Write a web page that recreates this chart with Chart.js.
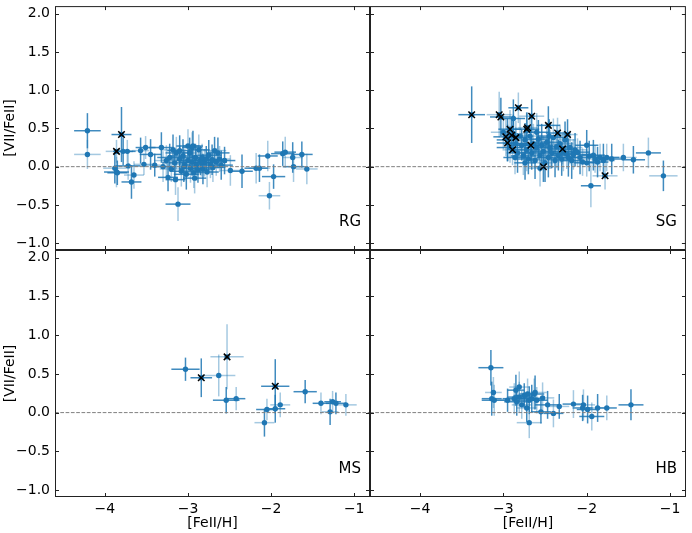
<!DOCTYPE html>
<html>
<head>
<meta charset="utf-8">
<script src="https://cdn.jsdelivr.net/npm/chart.js@4.4.1/dist/chart.umd.min.js"></script>
<style>
  body { margin: 0; background: #fff; }
  #wrap { position: relative; width: 692px; height: 533px; }
  #wrap canvas { position: absolute; left: 0; top: 0; }
</style>
</head>
<body>
<div id="wrap">
  <canvas id="rg" width="692" height="533"></canvas>
  <canvas id="sg" width="692" height="533"></canvas>
  <canvas id="ms" width="692" height="533"></canvas>
  <canvas id="hb" width="692" height="533"></canvas>
</div>
<script>
// tick labels
const xTicks = [-4, -3, -2, -1];
const yTicks = [-1.0, -0.5, 0.0, 0.5, 1.0, 1.5, 2.0];

// RG - red giants
const rgFe = [-4.21, -4.21, -3.78, -3.73, -3.88, -3.86, -3.85, -3.65, -3.68, -3.72, -3.57, -3.51, -3.45, -3.53, -3.32, -3.12,
  -3.18, -3.00, -2.94, -3.26, -3.24, -3.15, -3.40, -3.30, -3.22, -3.20, -3.16, -3.14, -3.10, -3.08, -3.06, -3.04,
  -3.02, -3.00, -2.98, -2.97, -2.95, -2.93, -2.91, -2.90, -2.88, -2.87, -2.85, -2.83, -2.82, -2.80, -2.78, -2.77,
  -2.75, -2.73, -2.71, -2.70, -2.68, -2.66, -2.64, -2.62, -2.60, -2.84, -3.05, -2.95, -3.10, -2.49, -2.35, -2.18,
  -2.14, -2.04, -1.97, -2.02, -1.86, -1.83, -1.74, -1.73, -1.63, -1.57, -2.56, -2.92];
const rgV = [0.47, 0.16, 0.20, 0.20, -0.02, -0.07, -0.08, -0.11, -0.20, 0.01, 0.21, 0.25, 0.16, 0.03, 0.25, -0.49,
  0.22, 0.27, 0.27, 0.08, -0.14, -0.17, 0.02, 0.00, 0.12, -0.03, 0.05, 0.18, 0.10, -0.06, 0.14, 0.03,
  -0.10, 0.08, 0.18, -0.02, 0.06, -0.08, 0.12, 0.02, -0.04, 0.22, 0.08, 0.12, -0.03, 0.05, 0.10, -0.07,
  0.15, 0.03, 0.09, -0.01, 0.21, 0.06, 0.18, 0.10, 0.02, 0.05, 0.00, 0.25, 0.21, -0.05, -0.06, -0.02,
  -0.02, 0.14, -0.13, -0.38, 0.17, 0.19, 0.12, 0.00, 0.16, -0.03, 0.08, -0.15];
const rgFeErr = [0.16, 0.16, 0.12, 0.10, 0.14, 0.15, 0.12, 0.12, 0.12, 0.15, 0.10, 0.12, 0.13, 0.12, 0.15, 0.15,
  0.15, 0.14, 0.12, 0.15, 0.12, 0.12, 0.12, 0.15, 0.15, 0.14, 0.15, 0.13, 0.14, 0.14, 0.15, 0.13,
  0.15, 0.14, 0.12, 0.14, 0.15, 0.13, 0.14, 0.16, 0.14, 0.13, 0.15, 0.14, 0.14, 0.15, 0.12, 0.14,
  0.15, 0.13, 0.14, 0.15, 0.14, 0.13, 0.14, 0.13, 0.14, 0.13, 0.14, 0.12, 0.15, 0.12, 0.13, 0.14,
  0.13, 0.12, 0.14, 0.13, 0.14, 0.13, 0.12, 0.13, 0.13, 0.13, 0.13, 0.14];
const rgVErr = [0.23, 0.19, 0.18, 0.15, 0.20, 0.20, 0.16, 0.18, 0.22, 0.18, 0.17, 0.15, 0.20, 0.14, 0.20, 0.22,
  0.20, 0.22, 0.20, 0.20, 0.18, 0.20, 0.15, 0.20, 0.18, 0.17, 0.20, 0.21, 0.18, 0.20, 0.22, 0.18,
  0.20, 0.17, 0.20, 0.19, 0.18, 0.20, 0.18, 0.20, 0.17, 0.20, 0.19, 0.18, 0.20, 0.18, 0.17, 0.20,
  0.20, 0.18, 0.20, 0.19, 0.18, 0.18, 0.20, 0.17, 0.19, 0.18, 0.20, 0.20, 0.20, 0.20, 0.22, 0.20,
  0.18, 0.20, 0.16, 0.18, 0.16, 0.20, 0.20, 0.20, 0.17, 0.20, 0.18, 0.20];
const rgCrossFe = [-3.80, -3.86];
const rgCrossV = [0.42, 0.20];
const rgCrossFeErr = [0.12, 0.13];
const rgCrossVErr = [0.36, 0.15];

// SG - subgiants
const sgFe = [-2.88, -3.00, -2.95, -2.92, -2.88, -2.85, -2.83, -2.80, -2.78, -2.76, -2.74, -2.72, -2.70, -2.68, -2.66, -2.64,
  -2.62, -2.60, -2.58, -2.56, -2.54, -2.52, -2.50, -2.48, -2.46, -2.44, -2.42, -2.40, -2.38, -2.36, -2.34, -2.32,
  -2.30, -2.28, -2.26, -2.24, -2.22, -2.20, -2.18, -2.16, -2.14, -2.11, -2.08, -2.05, -2.00, -2.00, -1.97, -1.95,
  -1.92, -1.90, -1.87, -1.84, -1.80, -1.76, -1.70, -1.56, -1.44, -1.26, -1.08, -2.60, -2.74, -2.56, -2.45, -2.86];
const sgV = [0.63, 0.45, 0.35, 0.25, 0.43, 0.30, 0.18, 0.40, 0.28, 0.14, 0.35, 0.22, 0.10, 0.40, 0.18, 0.30,
  0.08, 0.25, 0.36, 0.15, 0.28, 0.20, 0.05, 0.32, 0.12, 0.24, 0.18, 0.38, 0.08, 0.26, 0.15, 0.30,
  0.10, 0.20, 0.35, 0.17, 0.12, 0.25, 0.08, 0.16, 0.22, 0.19, 0.12, 0.06, 0.28, 0.05, 0.14, -0.25,
  0.15, 0.10, 0.06, 0.12, 0.08, 0.12, 0.10, 0.12, 0.09, 0.18, -0.12, 0.45, 0.05, -0.02, 0.40, 0.12];
const sgFeErr = [0.14, 0.15, 0.13, 0.16, 0.14, 0.15, 0.13, 0.16, 0.14, 0.15, 0.13, 0.16, 0.14, 0.15, 0.13, 0.16,
  0.14, 0.15, 0.13, 0.16, 0.14, 0.15, 0.13, 0.16, 0.14, 0.15, 0.13, 0.16, 0.14, 0.15, 0.13, 0.16,
  0.14, 0.15, 0.13, 0.16, 0.14, 0.15, 0.13, 0.16, 0.14, 0.15, 0.13, 0.16, 0.14, 0.15, 0.13, 0.12,
  0.14, 0.15, 0.13, 0.16, 0.14, 0.15, 0.13, 0.16, 0.14, 0.15, 0.17, 0.15, 0.13, 0.14, 0.15, 0.14];
const sgVErr = [0.25, 0.22, 0.28, 0.20, 0.25, 0.22, 0.26, 0.24, 0.20, 0.25, 0.22, 0.28, 0.20, 0.25, 0.22, 0.26,
  0.24, 0.20, 0.25, 0.22, 0.28, 0.20, 0.25, 0.22, 0.26, 0.24, 0.20, 0.25, 0.22, 0.28, 0.20, 0.25,
  0.22, 0.26, 0.24, 0.20, 0.25, 0.22, 0.24, 0.20, 0.22, 0.18, 0.22, 0.18, 0.20, 0.18, 0.20, 0.28,
  0.20, 0.18, 0.20, 0.18, 0.22, 0.18, 0.20, 0.18, 0.18, 0.20, 0.20, 0.25, 0.22, 0.24, 0.22, 0.22];
const sgCrossFe = [-3.38, -3.05, -3.03, -2.82, -2.66, -2.92, -2.72, -2.71, -2.46, -2.97, -2.90, -2.85, -2.95, -2.89, -2.67, -2.35,
  -2.23, -2.29, -2.52, -1.78];
const sgCrossV = [0.68, 0.68, 0.65, 0.77, 0.66, 0.49, 0.49, 0.51, 0.54, 0.39, 0.41, 0.38, 0.31, 0.22, 0.28, 0.44,
  0.42, 0.23, 0.00, -0.12];
const sgCrossFeErr = [0.16, 0.15, 0.13, 0.12, 0.15, 0.14, 0.15, 0.12, 0.14, 0.15, 0.13, 0.14, 0.13, 0.12, 0.15, 0.14,
  0.12, 0.14, 0.12, 0.15];
const sgCrossVErr = [0.37, 0.30, 0.25, 0.20, 0.22, 0.25, 0.22, 0.20, 0.25, 0.25, 0.20, 0.22, 0.24, 0.20, 0.22, 0.20,
  0.20, 0.20, 0.20, 0.18];

// MS - main sequence
const msFe = [-3.03, -2.63, -2.54, -2.42, -2.08, -2.05, -1.95, -1.89, -1.59, -1.40, -1.29, -1.26, -1.22, -1.10];
const msV = [0.56, 0.48, 0.16, 0.18, -0.13, 0.04, 0.05, 0.10, 0.27, 0.12, 0.01, 0.14, 0.12, 0.10];
const msFeErr = [0.17, 0.20, 0.16, 0.11, 0.12, 0.13, 0.12, 0.12, 0.14, 0.10, 0.10, 0.10, 0.12, 0.13];
const msVErr = [0.15, 0.27, 0.17, 0.15, 0.18, 0.14, 0.18, 0.16, 0.15, 0.14, 0.17, 0.14, 0.14, 0.14];
const msCrossFe = [-2.84, -2.53, -1.95];
const msCrossV = [0.45, 0.72, 0.34];
const msCrossFeErr = [0.13, 0.20, 0.17];
const msCrossVErr = [0.25, 0.42, 0.35];

// HB - horizontal branch
const hbFe = [-3.15, -3.12, -3.14, -3.11, -2.95, -2.87, -2.85, -2.81, -2.84, -2.81, -2.72, -2.71, -2.69, -2.69, -2.66, -2.63,
  -2.62, -2.60, -2.55, -2.53, -2.47, -2.40, -2.33, -2.16, -2.05, -2.04, -1.99, -1.94, -1.87, -1.76, -1.47, -2.78, -2.75];
const hbV = [0.58, 0.26, 0.18, 0.16, 0.16, 0.18, 0.29, 0.33, 0.14, 0.20, 0.06, 0.24, 0.16, -0.13, 0.18, 0.24,
  0.26, 0.16, 0.01, 0.19, 0.10, -0.01, 0.08, 0.11, 0.06, 0.10, 0.04, -0.05, 0.06, 0.06, 0.10, 0.10, 0.22];
const hbFeErr = [0.15, 0.10, 0.12, 0.15, 0.14, 0.14, 0.10, 0.12, 0.15, 0.14, 0.12, 0.10, 0.13, 0.15, 0.14, 0.12,
  0.14, 0.13, 0.12, 0.14, 0.15, 0.12, 0.12, 0.13, 0.12, 0.14, 0.13, 0.15, 0.13, 0.12, 0.15, 0.12, 0.13];
const hbVErr = [0.23, 0.20, 0.22, 0.20, 0.15, 0.20, 0.20, 0.20, 0.18, 0.20, 0.18, 0.20, 0.18, 0.20, 0.18, 0.20,
  0.22, 0.17, 0.15, 0.20, 0.18, 0.18, 0.16, 0.18, 0.17, 0.20, 0.18, 0.18, 0.18, 0.16, 0.20, 0.18, 0.16];

const FONT = "'DejaVu Sans', sans-serif";
const minus = v => String(v).replace('-', '\u2212');

function pts(xs, ys) {
  return xs.map((x, i) => ({ x: x, y: ys[i] }));
}

// error bars, drawn under the markers
const errorBars = {
  id: 'errorBars',
  beforeDatasetsDraw(chart) {
    const { ctx, chartArea: a, scales: { x, y } } = chart;
    ctx.save();
    ctx.beginPath();
    ctx.rect(a.left, a.top, a.right - a.left, a.bottom - a.top);
    ctx.clip();
    ctx.lineWidth = 1.5;
    chart.data.datasets.forEach(ds => {
      if (!ds.errX) return;
      ds.data.forEach((p, i) => {
        const px = x.getPixelForValue(p.x);
        const py = y.getPixelForValue(p.y);
        ctx.strokeStyle = i % 3 === 1 ? 'rgba(31,119,180,0.4)' : 'rgba(31,119,180,0.85)';
        ctx.beginPath();
        ctx.moveTo(x.getPixelForValue(p.x - ds.errX[i]), py);
        ctx.lineTo(x.getPixelForValue(p.x + ds.errX[i]), py);
        ctx.stroke();
        ctx.strokeStyle = i % 2 === 1 ? 'rgba(31,119,180,0.4)' : 'rgba(31,119,180,0.85)';
        ctx.beginPath();
        ctx.moveTo(px, y.getPixelForValue(p.y - ds.errY[i]));
        ctx.lineTo(px, y.getPixelForValue(p.y + ds.errY[i]));
        ctx.stroke();
      });
    });
    ctx.restore();
  }
};

// zero line, frame, inward ticks, panel name
const frame = {
  id: 'frame',
  afterDatasetsDraw(chart) {
    const { ctx, chartArea: a, scales: { y } } = chart;
    const y0 = y.getPixelForValue(0);
    ctx.save();
    ctx.strokeStyle = '#7f7f7f';
    ctx.lineWidth = 1;
    ctx.setLineDash([3.7, 1.6]);
    ctx.beginPath();
    ctx.moveTo(a.left, y0);
    ctx.lineTo(a.right, y0);
    ctx.stroke();
    ctx.restore();
  },
  afterDraw(chart, args, opts) {
    const { ctx, chartArea: a, scales: { x, y } } = chart;
    ctx.save();
    ctx.strokeStyle = '#222';
    ctx.lineWidth = 1;
    ctx.strokeRect(a.left + 0.5, a.top + 0.5, a.right - a.left - 1, a.bottom - a.top - 1);
    ctx.beginPath();
    xTicks.forEach(v => {
      const px = Math.round(x.getPixelForValue(v)) + 0.5;
      ctx.moveTo(px, a.top); ctx.lineTo(px, a.top + 4);
      ctx.moveTo(px, a.bottom); ctx.lineTo(px, a.bottom - 4);
    });
    yTicks.forEach(v => {
      const py = Math.round(y.getPixelForValue(v)) + 0.5;
      ctx.moveTo(a.left, py); ctx.lineTo(a.left + 4, py);
      ctx.moveTo(a.right, py); ctx.lineTo(a.right - 4, py);
    });
    ctx.stroke();
    ctx.fillStyle = '#000';
    ctx.font = '15px ' + FONT;
    ctx.textAlign = 'right';
    ctx.textBaseline = 'alphabetic';
    ctx.fillText(opts.text, a.right - 9, a.bottom - 24);
    ctx.restore();
  }
};

function panel(id, name, fe, v, feErr, vErr, cFe, cV, cFeErr, cVErr, pad, leftCol, bottomRow) {
  const datasets = [];
  if (cFe) {
    datasets.push({
      data: pts(cFe, cV), pointStyle: 'crossRot', pointRadius: 4.6,
      borderColor: '#000', backgroundColor: '#000', pointBorderWidth: 1.5
    });
    datasets.push({
      data: pts(cFe, cV), errX: cFeErr, errY: cVErr, pointRadius: 2.7,
      backgroundColor: '#1f77b4', borderColor: '#1f77b4', pointBorderWidth: 0
    });
  }
  datasets.push({
    data: pts(fe, v), errX: feErr, errY: vErr, pointRadius: 2.7,
    backgroundColor: '#1f77b4', borderColor: '#1f77b4', pointBorderWidth: 0
  });

  return new Chart(document.getElementById(id), {
    type: 'scatter',
    data: { datasets: datasets },
    options: {
      responsive: false,
      animation: false,
      events: [],
      layout: { padding: pad },
      plugins: { legend: { display: false }, tooltip: { enabled: false }, frame: { text: name } },
      scales: {
        x: {
          type: 'linear', min: -4.6, max: -0.81,
          display: bottomRow,
          afterBuildTicks: s => { s.ticks = xTicks.map(t => ({ value: t })); },
          afterFit: s => { s.height = bottomRow ? 36 : 0; s.paddingLeft = 0; s.paddingRight = 0; },
          grid: { display: false, drawTicks: false },
          border: { display: false },
          ticks: { color: '#000', padding: 4, font: { family: FONT, size: 14 }, callback: val => minus(val), maxRotation: 0 },
          title: { display: true, text: '[FeII/H]', color: '#000', font: { family: FONT, size: 14 }, padding: { top: 0, bottom: 1 } }
        },
        y: {
          type: 'linear', min: -1.09, max: 2.1,
          display: leftCol,
          afterBuildTicks: s => { s.ticks = yTicks.map(t => ({ value: t })); },
          afterFit: s => { s.width = leftCol ? 55 : 0; s.paddingTop = 0; s.paddingBottom = 0; },
          grid: { display: false, drawTicks: false },
          border: { display: false },
          ticks: { color: '#000', padding: 5, font: { family: FONT, size: 14 }, callback: val => minus(val.toFixed(1)) },
          title: { display: true, text: '[VII/FeII]', color: '#000', font: { family: FONT, size: 14 }, padding: { top: 2, bottom: 0 } }
        }
      }
    },
    plugins: [errorBars, frame]
  });
}

Chart.defaults.font.family = FONT;

panel('rg', 'RG', rgFe, rgV, rgFeErr, rgVErr, rgCrossFe, rgCrossV, rgCrossFeErr, rgCrossVErr,
  { left: 0, top: 5, right: 322, bottom: 283 }, true, false);
panel('sg', 'SG', sgFe, sgV, sgFeErr, sgVErr, sgCrossFe, sgCrossV, sgCrossFeErr, sgCrossVErr,
  { left: 370, top: 5, right: 6, bottom: 283 }, false, false);
panel('ms', 'MS', msFe, msV, msFeErr, msVErr, msCrossFe, msCrossV, msCrossFeErr, msCrossVErr,
  { left: 0, top: 250, right: 322, bottom: 0 }, true, true);
panel('hb', 'HB', hbFe, hbV, hbFeErr, hbVErr, null, null, null, null,
  { left: 370, top: 250, right: 6, bottom: 0 }, false, true);
</script>
</body>
</html>
